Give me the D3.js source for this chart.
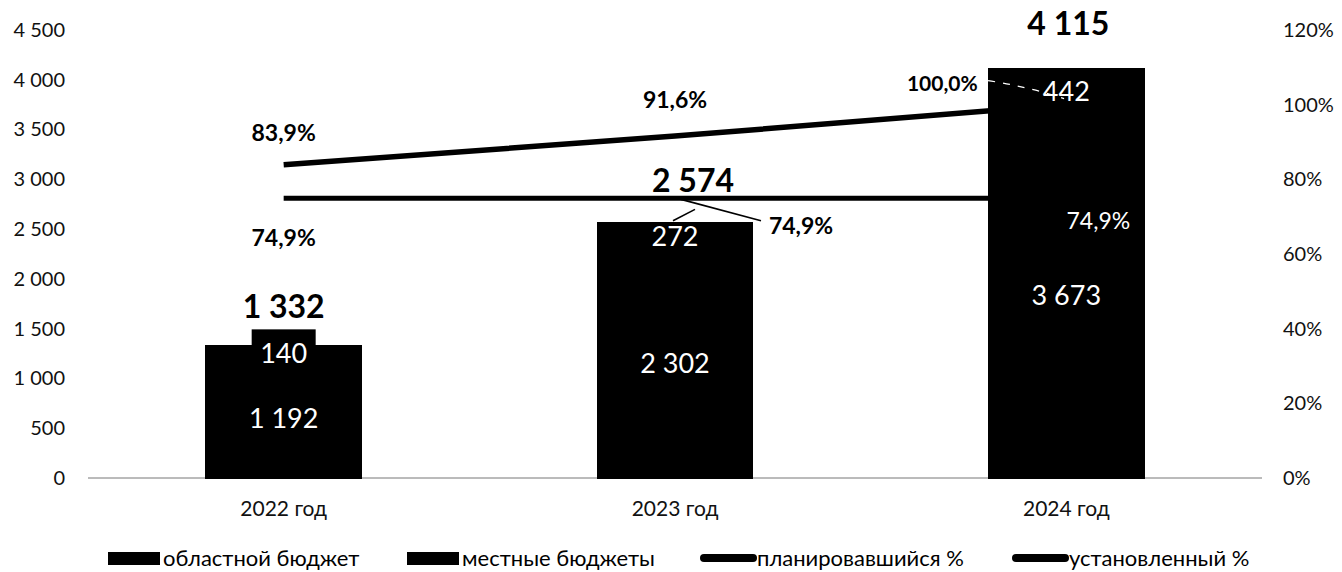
<!DOCTYPE html>
<html><head><meta charset="utf-8">
<script src="https://cdn.jsdelivr.net/npm/d3@7/dist/d3.min.js"></script>
<style>
html,body{margin:0;padding:0;background:#fff;}
svg{display:block;font-family:Lato,"Noto Sans",sans-serif;}
</style></head>
<body>
<svg id="chart" width="1342" height="572"></svg>
<script>
const categories = ["2022 год", "2023 год", "2024 год"];
const regionalBudget = [1192, 2302, 3673];
const localBudgets = [140, 272, 442];
const totals = [1332, 2574, 4115];
const plannedPct = [83.9, 91.6, 100.0];
const establishedPct = [74.9, 74.9, 74.9];
const leftTicks = [0, 500, 1000, 1500, 2000, 2500, 3000, 3500, 4000, 4500];
const rightTicks = [0, 0.2, 0.4, 0.6, 0.8, 1.0, 1.2];
const legendLabels = ["областной бюджет", "местные бюджеты", "планировавшийся %", "установленный %"];

const loc = d3.formatLocale({decimal: ",", thousands: "\u00a0", grouping: [3], currency: ["", ""]});
const fmtNum = loc.format(",d");
const fmtPct1 = v => loc.format(".1f")(v) + "%";
const fmtTickPct = loc.format(".0%");

const svg = d3.select("#chart");
const x0 = 88, x1 = 1262, yTop = 30, yBase = 478;

const x = d3.scaleBand().domain(categories).range([x0, x1]).paddingInner(0.6).paddingOuter(0.3);
const y = d3.scaleLinear().domain([0, 4500]).range([yBase, yTop]);
const yR = d3.scaleLinear().domain([0, 1.2]).range([yBase, yTop]);
const cx = c => x(c) + x.bandwidth() / 2;

// left axis
const la = svg.append("g").attr("transform", `translate(${x0},0)`)
  .call(d3.axisLeft(y).tickValues(leftTicks).tickFormat(fmtNum).tickSize(0).tickPadding(23));
la.select(".domain").remove();
la.selectAll("text").attr("font-size", 20).attr("fill", "#111").attr("font-family", "Lato");

// right axis
const ra = svg.append("g").attr("transform", `translate(${x1},0)`)
  .call(d3.axisRight(yR).tickValues(rightTicks).tickFormat(fmtTickPct).tickSize(0).tickPadding(21));
ra.select(".domain").remove();
ra.selectAll("text").attr("font-size", 20).attr("fill", "#111").attr("font-family", "Lato");

// baseline
svg.append("line").attr("x1", x0).attr("x2", x1).attr("y1", yBase).attr("y2", yBase)
  .attr("stroke", "#777").attr("stroke-width", 1);

// category labels
const ca = svg.append("g").attr("transform", `translate(0,${yBase})`)
  .call(d3.axisBottom(x).tickSize(0).tickPadding(23));
ca.select(".domain").remove();
ca.selectAll("text").attr("font-size", 21).attr("fill", "#111").attr("font-family", "Lato");

// lines
const line = d3.line().x(d => cx(d.c)).y(d => yR(d.v / 100));
svg.append("path").datum(categories.map((c, i) => ({c, v: plannedPct[i]})))
  .attr("d", line).attr("fill", "none").attr("stroke", "#000").attr("stroke-width", 5.5);
svg.append("path").datum(categories.map((c, i) => ({c, v: establishedPct[i]})))
  .attr("d", line).attr("fill", "none").attr("stroke", "#000").attr("stroke-width", 5);

// stacked bars
const stackData = categories.map((c, i) => ({c, regional: regionalBudget[i], local: localBudgets[i]}));
const series = d3.stack().keys(["regional", "local"])(stackData);
svg.append("g").attr("shape-rendering", "crispEdges")
  .selectAll("g").data(series).join("g").selectAll("rect")
  .data(d => d).join("rect")
  .attr("x", d => x(d.data.c)).attr("width", x.bandwidth())
  .attr("y", d => y(d[1])).attr("height", d => y(d[0]) - y(d[1]) + 0.5)
  .attr("fill", "#000");

// leader lines (2023 labels, 2024 dashed)
const c2 = categories[1], c3 = categories[2];
svg.append("line").attr("x1", cx(c2) + 6).attr("y1", yR(establishedPct[1] / 100) + 1)
  .attr("x2", cx(c2) + 86).attr("y2", y(totals[1]) - 1).attr("stroke", "#000").attr("stroke-width", 1.6);
svg.append("line").attr("x1", cx(c2) + 20).attr("y1", yR(establishedPct[1] / 100) + 11)
  .attr("x2", cx(c2) - 2).attr("y2", y(totals[1]) - 1).attr("stroke", "#000").attr("stroke-width", 1.6);
const pY = yR(plannedPct[2] / 100);
svg.append("path")
  .attr("d", `M${x(c3)},${pY - 24} Q${x(c3) + 40},${pY - 18} ${x(c3) + 76},${pY - 6}`)
  .attr("fill", "none").attr("stroke", "#fff").attr("stroke-width", 1.2).attr("stroke-dasharray", "7,8");

// segment labels
const lbl = svg.append("g");
categories.forEach((c, i) => {
  const yc = (y(regionalBudget[i]) + y(totals[i])) / 2;
  if (y(regionalBudget[i]) - y(totals[i]) < 20) {
    lbl.append("rect").attr("x", cx(c) - 32).attr("y", yc - 23).attr("width", 64).attr("height", 40).attr("fill", "#000");
  }
  lbl.append("text").attr("x", cx(c)).attr("y", yc + 1).attr("dy", "0.36em").attr("text-anchor", "middle")
    .attr("font-size", 27).attr("fill", "#fff").text(fmtNum(localBudgets[i]));
  const yr = (y(0) + y(regionalBudget[i])) / 2;
  lbl.append("text").attr("x", cx(c)).attr("y", yr).attr("dy", "0.36em").attr("text-anchor", "middle")
    .attr("font-size", 27).attr("fill", "#fff").text(fmtNum(regionalBudget[i]));
});

// totals
const totalDx = [0, 18, 2], totalDy = [-39, -41, -45];
categories.forEach((c, i) => {
  lbl.append("text").attr("x", cx(c) + totalDx[i]).attr("y", y(totals[i]) + totalDy[i]).attr("dy", "0.36em")
    .attr("text-anchor", "middle").attr("font-size", 32).attr("font-weight", 700).attr("fill", "#000")
    .text(fmtNum(totals[i]));
});

// planned % labels
const plDx = [0, 0, -124], plDy = [-32, -36, -21], plSize = [23, 23, 21];
categories.forEach((c, i) => {
  lbl.append("text").attr("x", cx(c) + plDx[i]).attr("y", yR(plannedPct[i] / 100) + plDy[i]).attr("dy", "0.36em")
    .attr("text-anchor", "middle").attr("font-size", plSize[i]).attr("font-weight", 700).attr("fill", "#000")
    .text(fmtPct1(plannedPct[i]));
});

// established % labels
const esDx = [0, 126, 32], esDy = [39, 27, 22], esFill = ["#000", "#000", "#fff"], esW = [700, 700, 400];
categories.forEach((c, i) => {
  lbl.append("text").attr("x", cx(c) + esDx[i]).attr("y", yR(establishedPct[i] / 100) + esDy[i]).attr("dy", "0.36em")
    .attr("text-anchor", "middle").attr("font-size", 23).attr("font-weight", esW[i]).attr("fill", esFill[i])
    .text(fmtPct1(establishedPct[i]));
});

// legend
const lg = svg.append("g").attr("transform", "translate(0,558)");
const legendX = [108, 407, 700, 1012];
legendLabels.forEach((t, i) => {
  const gx = legendX[i];
  if (i < 2) {
    lg.append("rect").attr("x", gx).attr("y", -6).attr("width", 52).attr("height", 13).attr("fill", "#000");
  } else {
    lg.append("line").attr("x1", gx + 4).attr("x2", gx + 53).attr("y1", 0).attr("y2", 0)
      .attr("stroke", "#000").attr("stroke-width", 8).attr("stroke-linecap", "round");
  }
  lg.append("text").attr("x", gx + (i < 2 ? 55 : 57)).attr("y", 0).attr("dy", "0.36em")
    .attr("font-size", 22).attr("fill", "#000").text(t);
});
</script>
</body></html>
